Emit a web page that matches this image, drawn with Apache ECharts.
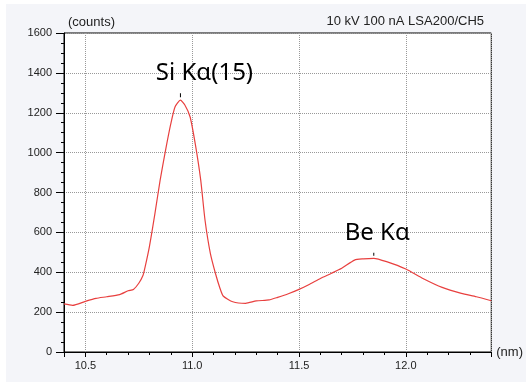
<!DOCTYPE html>
<html>
<head>
<meta charset="utf-8">
<script src="https://cdn.jsdelivr.net/npm/echarts@6/dist/echarts.min.js"></script>
<style>
  html, body { margin: 0; padding: 0; background: #fff; }
  #chart { position: absolute; left: 6px; top: 4px; width: 520px; height: 378px; background: #f4f5f9; }
</style>
</head>
<body>
<div id="chart"></div>
<script>
// wavelength (nm) and intensity (counts)
const wavelengths = [10.40, 10.44, 10.50, 10.55, 10.60, 10.66, 10.70, 10.725, 10.75, 10.77, 10.78, 10.80, 10.825, 10.85, 10.875, 10.90, 10.92, 10.945, 10.965, 10.99, 11.015, 11.04, 11.06, 11.085, 11.11, 11.13, 11.145, 11.19, 11.25, 11.30, 11.36, 11.40, 11.45, 11.50, 11.55, 11.60, 11.65, 11.70, 11.76, 11.80, 11.85, 11.91, 12.00, 12.08, 12.17, 12.26, 12.33, 12.40];
const counts = [241, 234, 254, 269, 277, 288, 307, 314, 345, 385, 428, 530, 690, 862, 1010, 1145, 1230, 1263, 1240, 1180, 1040, 862, 662, 495, 390, 320, 281, 252, 244, 256, 261, 274, 292, 314, 340, 369, 394, 420, 461, 467, 470, 453, 416, 369, 324, 294, 277, 257];

// peak annotations
const peakNames = ["Si Kα(15)", "Be Kα"];
const peakPos = [[10.945, 1263], [11.85, 470]];

const chart = echarts.init(document.getElementById("chart"));
const font = "'Liberation Sans', Arial, sans-serif";
const data = wavelengths.map((w, i) => [w, counts[i]]);

chart.setOption({
  animation: false,
  title: {
    text: "10 kV 100 nA LSA200/CH5",
    right: 42,
    top: 11,
    padding: 0,
    textStyle: { fontSize: 13, fontWeight: "normal", color: "#222", fontFamily: font },
  },
  grid: {
    left: 58,
    top: 29,
    right: 34,
    bottom: 30,
    show: true,
    backgroundColor: "#fff",
    borderColor: "#000",
    borderWidth: 1,
  },
  xAxis: {
    type: "value",
    min: 10.4,
    max: 12.4,
    splitNumber: 4,
    name: "(nm)",
    nameLocation: "end",
    nameGap: 5,
    nameTextStyle: { fontSize: 13, color: "#222", fontFamily: font },
    axisLine: { lineStyle: { color: "#000", width: 1 } },
    axisTick: { show: true, length: 5, lineStyle: { color: "#000" } },
    minorTick: { show: true, splitNumber: 5, length: 3, lineStyle: { color: "#000" } },
    axisLabel: {
      showMinLabel: false,
      showMaxLabel: false,
      fontSize: 11,
      color: "#222",
      fontFamily: font,
      margin: 8,
      formatter: (v) => v.toFixed(1),
    },
    splitLine: { show: true, lineStyle: { color: "#999", type: "dotted", width: 1 } },
  },
  yAxis: {
    type: "value",
    min: 0,
    max: 1600,
    interval: 200,
    name: "(counts)",
    nameLocation: "end",
    nameGap: 4,
    nameTextStyle: { fontSize: 13, color: "#222", fontFamily: font, align: "left", padding: [0, 0, 0, 4] },
    axisLine: { show: true, lineStyle: { color: "#000", width: 1 } },
    axisTick: { show: true, length: 8, lineStyle: { color: "#000" } },
    minorTick: { show: true, splitNumber: 4, length: 3, lineStyle: { color: "#000" } },
    axisLabel: { fontSize: 11, color: "#222", fontFamily: font, margin: 12, formatter: (v) => String(v) },
    splitLine: { show: true, lineStyle: { color: "#999", type: "dotted", width: 1 } },
  },
  series: [
    {
      type: "line",
      data: data,
      smooth: 0.2,
      symbol: "none",
      lineStyle: { color: "#e8403f", width: 1.2 },
      markPoint: {
        silent: true,
        data: [
          // small tick marks over the peaks
          { coord: peakPos[0], symbol: "rect", symbolSize: [1, 4], symbolOffset: [0, -5], itemStyle: { color: "#000" }, label: { show: false } },
          { coord: peakPos[1], symbol: "rect", symbolSize: [1, 3], symbolOffset: [0, -4], itemStyle: { color: "#000" }, label: { show: false } },
          // peak names
          { coord: peakPos[0], symbol: "circle", symbolSize: 1, itemStyle: { color: "rgba(0,0,0,0)" },
            label: { show: true, position: "inside", offset: [24, -27], formatter: peakNames[0] } },
          { coord: peakPos[1], symbol: "circle", symbolSize: 1, itemStyle: { color: "rgba(0,0,0,0)" },
            label: { show: true, position: "inside", offset: [3.5, -25], formatter: peakNames[1] } },
        ],
        label: { fontSize: 24, color: "#000", fontFamily: "'Noto Sans', sans-serif" },
      },
    },
  ],
});
</script>
</body>
</html>
